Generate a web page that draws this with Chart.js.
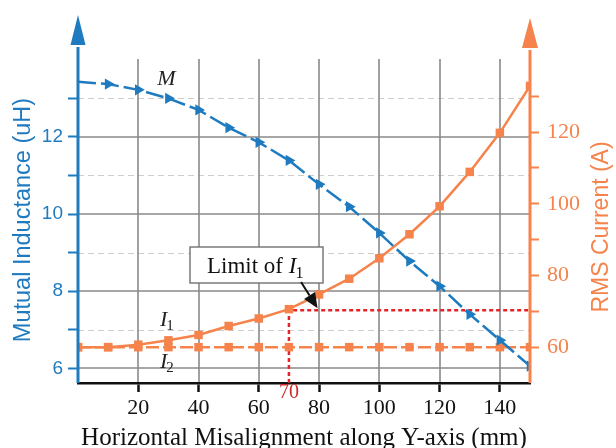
<!DOCTYPE html>
<html><head><meta charset="utf-8">
<script src="https://cdn.jsdelivr.net/npm/chart.js@4/dist/chart.umd.min.js"></script>
<style>html,body{margin:0;padding:0;background:#fff}#wrap{width:616px;height:448px;position:relative}</style>
</head><body><div id="wrap"><canvas id="c" width="616" height="448"></canvas></div>
<script>
// ---- data ----
const misalignment = [0,10,20,30,40,50,60,70,80,90,100,110,120,130,140,150];
const mutualInductance = [13.43,13.37,13.22,13.0,12.70,12.24,11.86,11.39,10.77,10.19,9.51,8.78,8.13,7.40,6.73,6.06];
const currentI1 = [60,60,60.7,61.9,63.4,65.9,68.0,70.6,74.7,79.1,84.8,91.5,99.3,108.9,119.8,132.9];
const currentI2 = [60,60,60,60,60,60,60,60,60,60,60,60,60,60,60,60];
const limitX = 70;
const limitCurrent = 70.3;
const xTicks = [20,40,60,80,100,120,140];
const leftTicks = [6,7,8,9,10,11,12,13];
const leftTickLabels = ['6','','8','','10','','12',''];
const rightTicks = [60,70,80,90,100,110,120,130];
const rightTickLabels = ['60','','80','','100','','120',''];
const xTitle = 'Horizontal Misalignment along Y-axis (mm)';
const leftTitle = 'Mutual Inductance (uH)';
const rightTitle = 'RMS Current (A)';

// ---- styles ----
const BLUE='#1f7bbf', ORANGE='#f5834b', RED='#e3242b', GRID='#8a8a8a', DGRID='#cdcdcd';
const SANS='"Liberation Sans", Arial, sans-serif', SERIF='"Liberation Serif", "Times New Roman", serif';

const pts = ys => misalignment.map((x,i)=>({x, y: ys[i]}));

function line(ctx,x1,y1,x2,y2){ctx.beginPath();ctx.moveTo(x1,y1);ctx.lineTo(x2,y2);ctx.stroke();}

const deco = {
  id:'deco',
  beforeDatasetsDraw(chart){
    const {ctx, chartArea:a, scales:{x, yL}} = chart;
    ctx.save();
    ctx.lineWidth=1.2; ctx.strokeStyle=DGRID; ctx.setLineDash([6,4]);
    leftTicks.forEach((v,i)=>{ if(!leftTickLabels[i]){ const y=Math.round(yL.getPixelForValue(v))+0.5; line(ctx,a.left,y,a.right,y);} });
    ctx.setLineDash([]); ctx.strokeStyle=GRID; ctx.lineWidth=1.6;
    leftTicks.forEach((v,i)=>{ if(leftTickLabels[i]){ const y=Math.round(yL.getPixelForValue(v)); line(ctx,a.left,y,a.right,y);} });
    xTicks.forEach(v=>{ const px=Math.round(x.getPixelForValue(v)); line(ctx,px,a.top,px,a.bottom-1); });
    ctx.restore();
  },
  afterDraw(chart){
    const {ctx, chartArea:a, scales:{x, yL, yR}} = chart;
    ctx.save();
    // axis lines with arrows
    const axis=(px,col,tip,base,hw)=>{
      ctx.strokeStyle=col; ctx.lineWidth=3; line(ctx,px,a.bottom,px,base+2);
      ctx.fillStyle=col; ctx.beginPath(); ctx.moveTo(px,tip); ctx.lineTo(px-hw,base); ctx.lineTo(px+hw,base); ctx.closePath(); ctx.fill();
    };
    axis(a.left,BLUE,15,45,7.5);
    axis(a.right,ORANGE,18,48,8);

    // axis titles
    ctx.font='23.5px '+SANS; ctx.textAlign='center'; ctx.textBaseline='middle';
    ctx.fillStyle=BLUE; ctx.save(); ctx.translate(24,220); ctx.rotate(-Math.PI/2); ctx.fillText(leftTitle,0,0); ctx.restore();
    ctx.font='23px '+SANS;
    ctx.fillStyle=ORANGE; ctx.save(); ctx.translate(602,227); ctx.rotate(-Math.PI/2); ctx.fillText(rightTitle,0,0); ctx.restore();
    ctx.fillStyle='#111'; ctx.font='25px '+SERIF; ctx.textBaseline='alphabetic';
    ctx.fillText(xTitle,(a.left+a.right)/2,445);

    // "70" label
    ctx.fillStyle='#cc2a2a'; ctx.font='20px '+SERIF; ctx.textAlign='center'; ctx.textBaseline='middle';
    ctx.fillText(String(limitX), x.getPixelForValue(limitX), 393);

    // series labels (italic with subscripts)
    const label=(txt,sub,px,py)=>{
      ctx.fillStyle='#222'; ctx.textAlign='left'; ctx.textBaseline='alphabetic';
      ctx.font='italic 22px '+SERIF; const w=ctx.measureText(txt).width;
      ctx.fillText(txt,px,py);
      if(sub){ ctx.font='15px '+SERIF; ctx.fillText(sub,px+w-1,py+4); }
    };
    label('M','',x.getPixelForValue(26.3),yL.getPixelForValue(13.35));
    label('I','1',x.getPixelForValue(27.2),yR.getPixelForValue(65.9));
    label('I','2',x.getPixelForValue(27.2),yR.getPixelForValue(54.1));

    // annotation box
    const bx=190, by=247, bw=133, bh=36;
    ctx.fillStyle='#fff'; ctx.fillRect(bx,by,bw,bh);
    ctx.strokeStyle='#7a7a7a'; ctx.lineWidth=1.5; ctx.strokeRect(bx,by,bw,bh);
    ctx.fillStyle='#111'; ctx.textBaseline='alphabetic'; ctx.textAlign='left';
    ctx.font='23px '+SERIF; let tx=207; const t1='Limit of '; ctx.fillText(t1,tx,273); tx+=ctx.measureText(t1).width;
    ctx.font='italic 23px '+SERIF; ctx.fillText('I',tx,273); tx+=ctx.measureText('I').width;
    ctx.font='16px '+SERIF; ctx.fillText('1',tx-1,278);

    // arrow
    const tipX=x.getPixelForValue(79.5), tipY=yR.getPixelForValue(limitCurrent)-2;
    const sx=301, sy=282;
    const ang=Math.atan2(tipY-sy,tipX-sx), hl=15, hw=6.5;
    const bxx=tipX-hl*Math.cos(ang), byy=tipY-hl*Math.sin(ang);
    ctx.strokeStyle='#111'; ctx.lineWidth=2; line(ctx,sx,sy,bxx,byy);
    ctx.fillStyle='#111'; ctx.beginPath(); ctx.moveTo(tipX,tipY);
    ctx.lineTo(bxx+hw*Math.sin(ang), byy-hw*Math.cos(ang));
    ctx.lineTo(bxx-hw*Math.sin(ang), byy+hw*Math.cos(ang)); ctx.closePath(); ctx.fill();
    ctx.restore();
  }
};

new Chart(document.getElementById('c'), {
  type:'line',
  data:{datasets:[
    {label:'M', data:pts(mutualInductance), yAxisID:'yL', borderColor:BLUE, backgroundColor:BLUE, borderWidth:2.5, borderDash:[18,5],
     pointStyle:'triangle', pointRotation:90, pointRadius:c=>c.dataIndex===0?0:6.5, pointBorderWidth:0},
    {label:'I1', data:pts(currentI1), yAxisID:'yR', borderColor:ORANGE, backgroundColor:ORANGE, borderWidth:2.5,
     pointStyle:'rect', pointRadius:6, pointBorderWidth:0},
    {label:'I2', data:pts(currentI2), yAxisID:'yR', borderColor:ORANGE, backgroundColor:ORANGE, borderWidth:2.5, borderDash:[13,4],
     pointStyle:'rect', pointRadius:6, pointBorderWidth:0},
    {label:'limit', data:[{x:limitX,y:50},{x:limitX,y:limitCurrent},{x:150,y:limitCurrent}], yAxisID:'yR', borderColor:RED, borderWidth:2.5, borderDash:[4,3], pointRadius:0}
  ]},
  options:{
    responsive:false, animation:false, events:[],
    layout:{padding:{top:59,left:0,right:0,bottom:0}},
    plugins:{legend:{display:false}, tooltip:{enabled:false}},
    scales:{
      x:{type:'linear', min:0, max:150, afterFit:s=>{s.height=65;},
         afterBuildTicks:s=>{s.ticks=xTicks.map(v=>({value:v}));},
         grid:{drawOnChartArea:false, tickLength:9, tickColor:'#111', tickWidth:2.5},
         border:{display:true, color:'#111', width:2.5},
         ticks:{color:'#111', font:{family:SERIF, size:22}, padding:3, maxRotation:0, autoSkip:false},
         title:{display:false}},
      yL:{type:'linear', position:'left', min:5.62, max:14.02, afterFit:s=>{s.width=78;},
         afterBuildTicks:s=>{s.ticks=leftTicks.map(v=>({value:v}));},
         grid:{drawOnChartArea:false, tickLength:10, tickColor:BLUE, tickWidth:2},
         border:{display:false},
         ticks:{color:BLUE, font:{family:SANS, size:19}, padding:5, autoSkip:false, callback:(v,i)=>leftTickLabels[i]}},
      yR:{type:'linear', position:'right', min:50, max:140.4, afterFit:s=>{s.width=86;},
         afterBuildTicks:s=>{s.ticks=rightTicks.map(v=>({value:v}));},
         grid:{drawOnChartArea:false, tickLength:9, tickColor:ORANGE, tickWidth:2},
         border:{display:false},
         ticks:{color:ORANGE, font:{family:SERIF, size:22}, padding:8, autoSkip:false, callback:(v,i)=>rightTickLabels[i]}}
    }
  },
  plugins:[deco]
});
</script></body></html>
